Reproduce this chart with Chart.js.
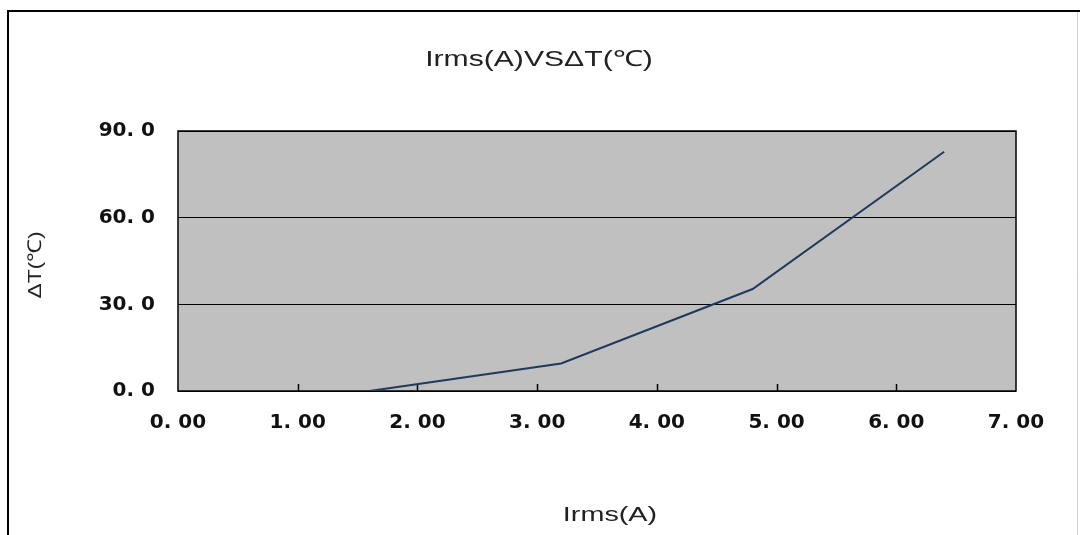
<!DOCTYPE html>
<html>
<head>
<meta charset="utf-8">
<script src="https://cdn.jsdelivr.net/npm/chart.js@4/dist/chart.umd.min.js"></script>
<style>
  html, body { margin: 0; padding: 0; background: #fff; }
  #wrap { width: 1080px; height: 535px; }
</style>
</head>
<body>
<div id="wrap"><canvas id="c" width="1080" height="535"></canvas></div>
<script>
// ---- data ----
const currentA = [1.6, 3.2, 4.8, 6.4];          // Irms (A)
const deltaT   = [0, 9.5, 35.3, 82.8];          // ΔT (℃)
const xTicks   = [0, 1, 2, 3, 4, 5, 6, 7];
const yTicks   = [0, 30, 60, 90];
const chartTitle = 'Irms(A)VSΔT(℃)';
const xTitle = 'Irms(A)';
const yTitle = 'ΔT(℃)';

const fmtX = v => v.toFixed(2).replace('.', '. ');
const fmtY = v => v.toFixed(1).replace('.', '. ');

const decor = {
  id: 'decor',
  beforeDraw(chart) {
    const ctx = chart.ctx, a = chart.chartArea;
    ctx.save();
    ctx.fillStyle = '#ffffff';
    ctx.fillRect(0, 0, chart.width, chart.height);
    // outer frame
    ctx.strokeStyle = '#000';
    ctx.lineWidth = 2;
    ctx.beginPath();
    ctx.moveTo(8, 536); ctx.lineTo(8, 11); ctx.lineTo(1080, 11);
    ctx.stroke();
    ctx.strokeStyle = '#d0d0d0';
    ctx.lineWidth = 1;
    ctx.beginPath();
    ctx.moveTo(1077.5, 12); ctx.lineTo(1077.5, 535);
    ctx.stroke();
    // plot background
    ctx.fillStyle = '#c0c0c0';
    ctx.fillRect(a.left, a.top, a.right - a.left, a.bottom - a.top);
    ctx.restore();
  },
  beforeDatasetsDraw(chart) {
    const ctx = chart.ctx, a = chart.chartArea, xs = chart.scales.x;
    ctx.save();
    ctx.strokeStyle = '#000';
    ctx.lineWidth = 1.5;
    ctx.strokeRect(a.left, a.top, a.right - a.left, a.bottom - a.top);
    ctx.beginPath();
    xTicks.slice(1, -1).forEach(t => {
      const px = Math.round(xs.getPixelForValue(t)) + 0.5;
      ctx.moveTo(px, a.bottom); ctx.lineTo(px, a.bottom - 7);
    });
    ctx.stroke();
    ctx.restore();
  },
  afterDraw(chart) {
    const ctx = chart.ctx;
    const drawText = (txt, x, y, size, sx, rot) => {
      ctx.save();
      ctx.translate(x, y);
      if (rot) ctx.rotate(rot);
      ctx.scale(sx, 1);
      ctx.font = size + 'px "Liberation Sans", Arial, sans-serif';
      ctx.fillStyle = '#222';
      ctx.textAlign = 'center';
      ctx.textBaseline = 'middle';
      ctx.fillText(txt, 0, 0);
      ctx.restore();
    };
    drawText(chartTitle, 539, 60, 22, 1.37, 0);
    drawText(xTitle, 610, 515, 21, 1.37, 0);
    drawText(yTitle, 36, 265, 19, 1.2, -Math.PI / 2);
  }
};

new Chart(document.getElementById('c'), {
  type: 'line',
  data: {
    datasets: [{
      data: currentA.map((x, i) => ({ x: x, y: deltaT[i] })),
      borderColor: '#1f3a5c',
      borderWidth: 2,
      pointRadius: 0,
      tension: 0,
      fill: false
    }]
  },
  options: {
    responsive: false,
    animation: false,
    devicePixelRatio: 1,
    layout: { padding: { top: 131, right: 64, left: 0, bottom: 0 } },
    plugins: { legend: { display: false }, title: { display: false }, tooltip: { enabled: false } },
    scales: {
      x: {
        type: 'linear', min: 0, max: 7,
        afterBuildTicks: s => { s.ticks = xTicks.map(v => ({ value: v })); },
        afterFit: s => { s.height = 144; },
        grid: { display: false, drawTicks: false },
        border: { display: false },
        ticks: {
          callback: v => fmtX(v),
          font: { family: 'DejaVu Sans', weight: 'bold', size: 20 },
          color: '#111',
          padding: 20,
          maxRotation: 0
        }
      },
      y: {
        type: 'linear', min: 0, max: 90,
        afterBuildTicks: s => { s.ticks = yTicks.map(v => ({ value: v })); },
        afterFit: s => { s.width = 178; },
        grid: { color: '#000', lineWidth: 1, drawTicks: false },
        border: { display: false },
        ticks: {
          callback: v => fmtY(v),
          font: { family: 'DejaVu Sans', weight: 'bold', size: 20 },
          color: '#111',
          padding: 23
        }
      }
    }
  },
  plugins: [decor]
});
</script>
</body>
</html>
